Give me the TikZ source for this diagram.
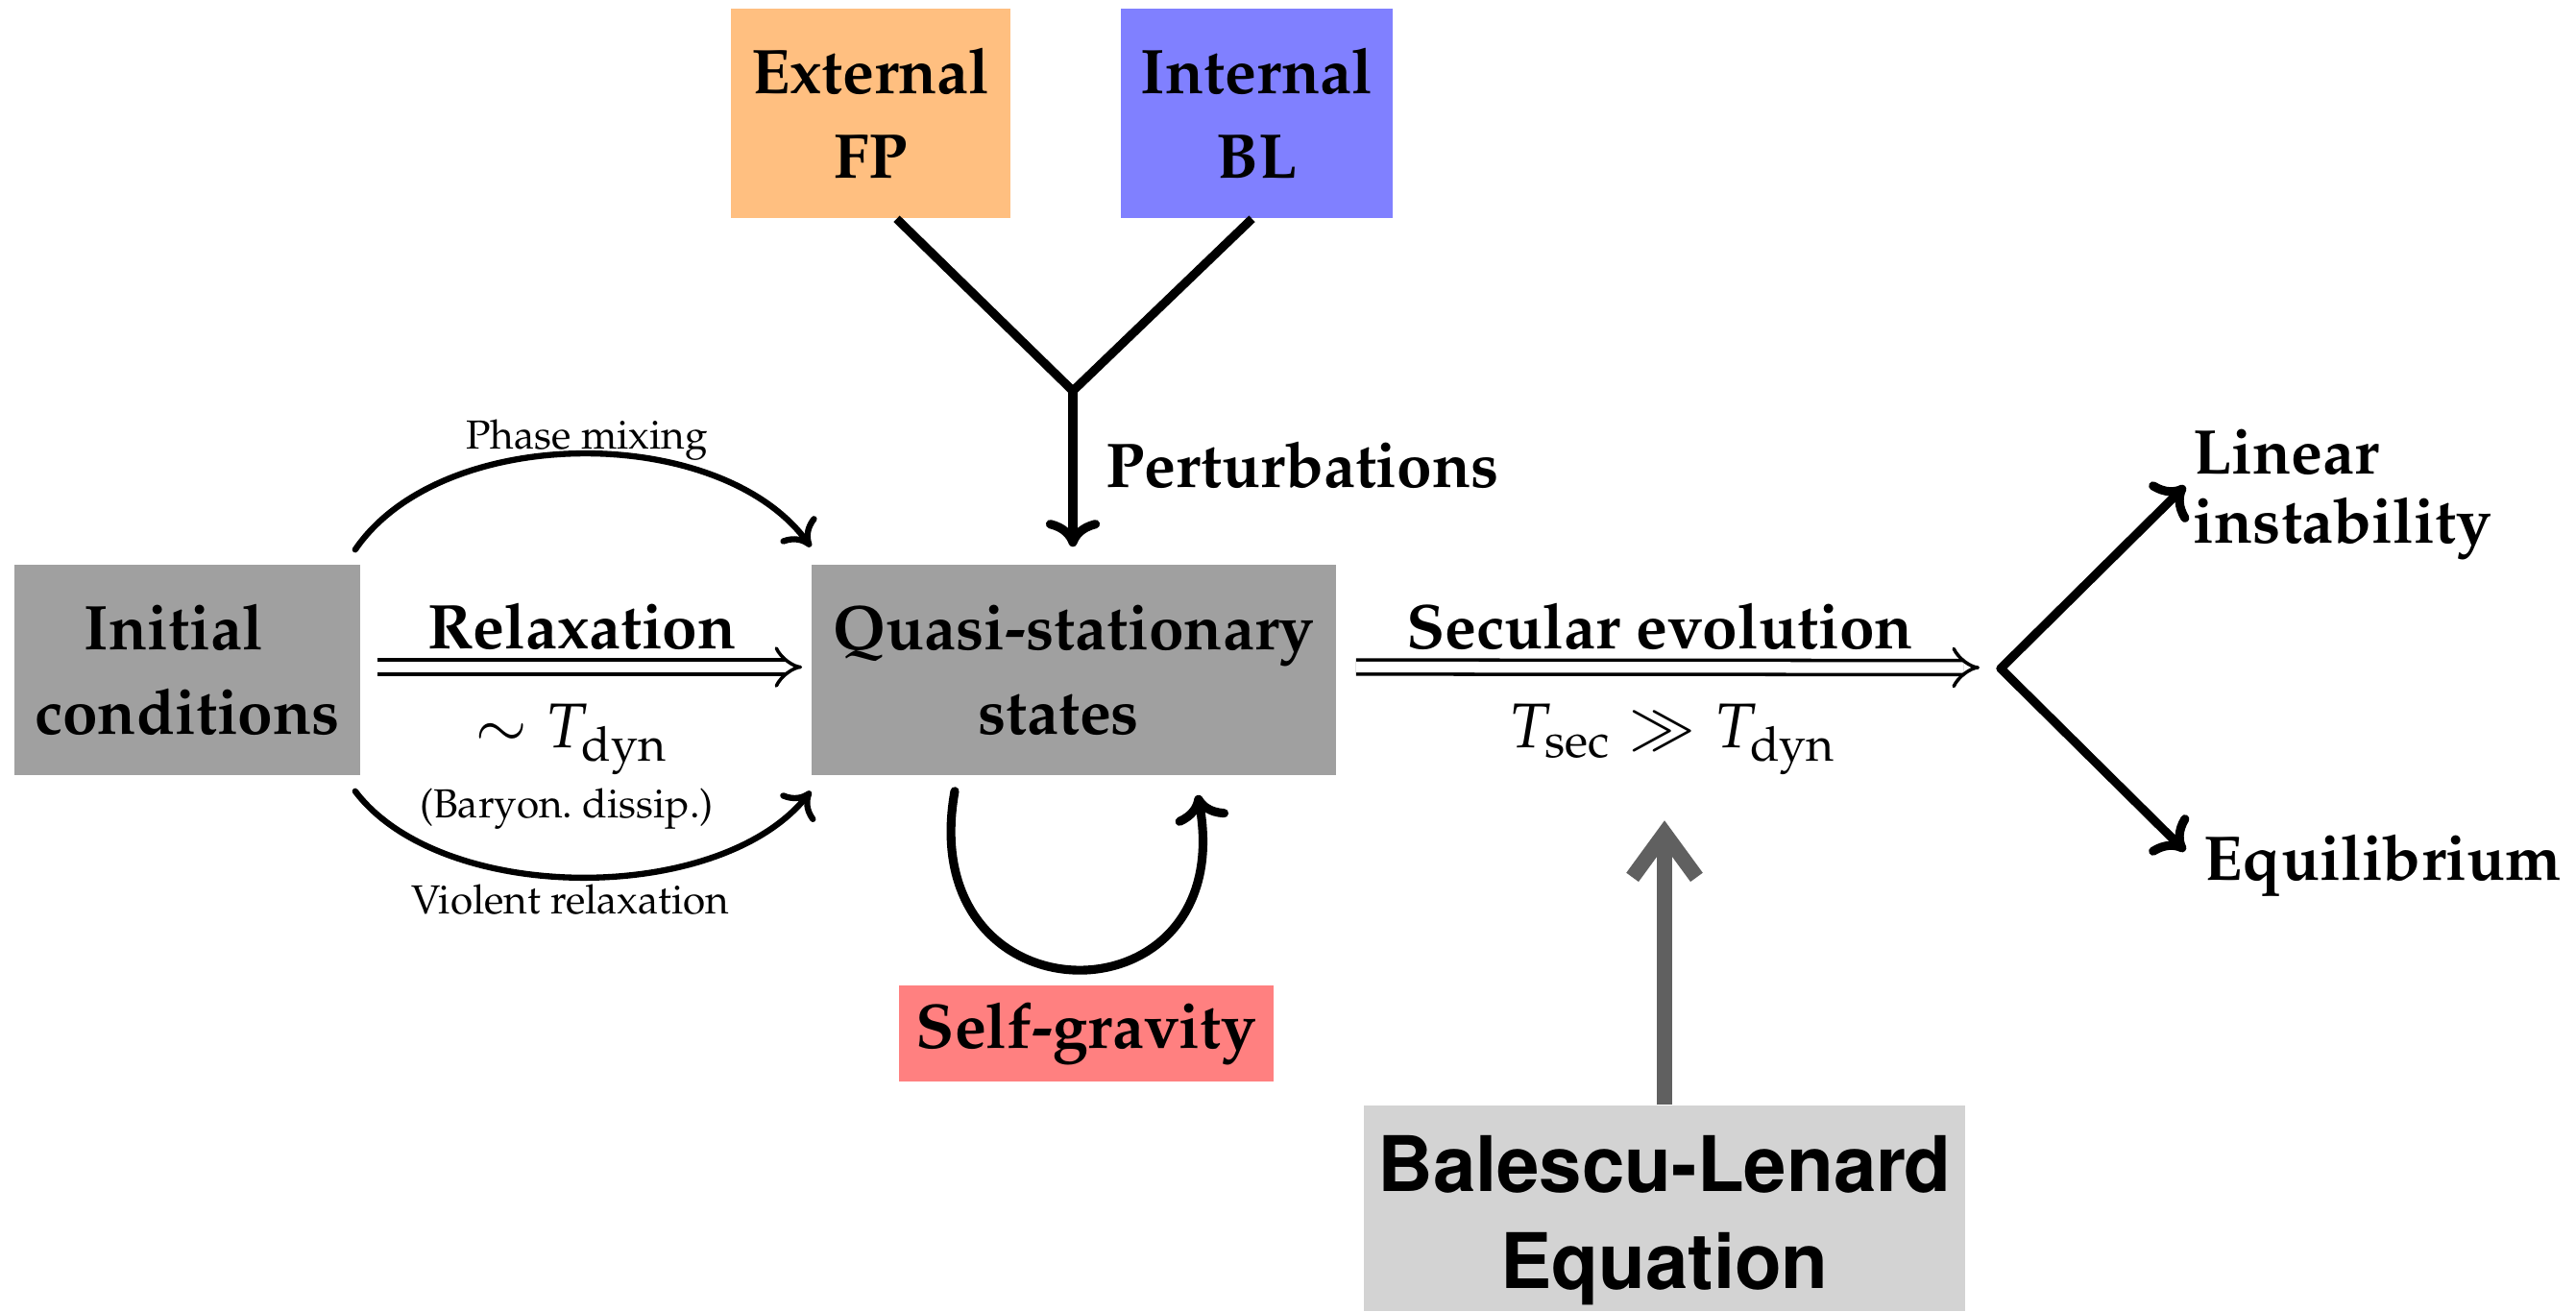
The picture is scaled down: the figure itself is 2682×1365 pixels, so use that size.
\documentclass[tikz,border=0pt]{standalone}
\usepackage[T1]{fontenc}
\usepackage{mathpazo}
\usetikzlibrary{arrows.meta,calc}
\definecolor{boxgray}{HTML}{A0A0A0}
\definecolor{extcol}{HTML}{FFBF80}
\definecolor{intcol}{HTML}{8080FF}
\definecolor{sgcol}{HTML}{FF8080}
\definecolor{blcol}{HTML}{D3D3D3}
\definecolor{arrgray}{HTML}{606060}
\begin{document}
\begin{tikzpicture}[x=0.01cm,y=-0.01cm,
  bigtxt/.style={font=\fontsize{18.7}{25}\selectfont\bfseries, align=center},
  mathtxt/.style={font=\fontsize{18.7}{22}\selectfont},
  smalltxt/.style={font=\fontsize{12}{14}\selectfont},
  boxnode/.style={rectangle, inner sep=0pt, bigtxt},
  thinarrow/.style={line width=1.8pt, line cap=round, -{Computer Modern Rightarrow[length=7pt,width=13pt]}},
  thickarrow/.style={line width=2.6pt, line cap=round, -{Computer Modern Rightarrow[length=8pt,width=16pt]}},
  dblarrow/.style={double, double distance=3.2pt, line width=1pt, -{Implies[scale=1.5]}},
  grayarrow/.style={draw=arrgray, line width=4.5pt, -{Straight Barb[length=13pt,width=19pt]}},
]
\useasboundingbox (0,0) rectangle (2682,1365);

% boxes
\node[boxnode, fill=boxgray, minimum width=3.6cm, minimum height=2.19cm] (ic) at (195,697.5) {Initial\hspace*{8pt}\\conditions};
\node[boxnode, fill=boxgray, minimum width=5.46cm, minimum height=2.19cm] (qs) at (1118,697.5) {Quasi-stationary\\states\hspace*{9pt}};
\node[boxnode, fill=extcol, minimum width=2.91cm, minimum height=2.18cm] (ext) at (906.5,118) {External\\FP};
\node[boxnode, fill=intcol, minimum width=2.83cm, minimum height=2.18cm] (int) at (1308.5,118) {Internal\\BL};
\node[boxnode, fill=sgcol, minimum width=3.9cm, minimum height=1cm] (sg) at (1131,1076) {Self-gravity};
\node[rectangle, inner sep=0pt, fill=blcol, minimum width=6.26cm, minimum height=2.14cm] (bl) at (1733,1258) {};
\node[align=center, inner sep=0pt, font=\fontfamily{phv}\fontsize{22.7}{28.5}\selectfont\bfseries] (bltext) at ($(bl.center)+(0,13)$) {Balescu-Lenard\\Equation};

% perturbations
\coordinate (yj) at (1117,407);
\draw[line width=2.6pt, line join=miter] ($(ext.south)+(27,0)$) -- (yj) -- ($(int.south)+(-5,0)$);
\draw[thickarrow] (yj) -- ($(qs.north -| yj)+(0,-18)$);
\node[bigtxt, anchor=west, inner sep=0pt] (pert) at (1151,484) {Perturbations};

% relaxation
\node[bigtxt] (relax) at (606,652) {Relaxation};
\draw[dblarrow] ($(ic.east)+(17,-3)$) -- ($(qs.west)+(-9,-3)$);
\node[mathtxt] (tdyn) at (595,770) {$\sim T_{\mathrm{dyn}}$};
\node[smalltxt] (bary) at (590,842) {(Baryon.\ dissip.)};
\node[smalltxt] (phase) at (611,458) {Phase mixing};
\node[smalltxt] (violent) at (594,937) {Violent relaxation};
\draw[thinarrow] ($(ic.north east)+(-6,-15)$) .. controls (460,440) and (750,440) .. ($(qs.north west)+(0,-18)$);
\draw[thinarrow] ($(ic.south east)+(-6,16)$) .. controls (460,943) and (750,943) .. ($(qs.south west)+(0,16)$);

% self-gravity loop
\draw[thickarrow] ($(qs.south)+(-124,16)$) .. controls (950,1070) and (1292,1070) .. ($(qs.south)+(129,20)$);

% secular evolution
\coordinate (fork) at (2083,696);
\node[bigtxt] (sec) at (1728,652) {Secular evolution};
\draw[dblarrow] ($(qs.east)+(20,-3)$) -- ($(fork)+(-22,-1)$);
\node[mathtxt] (tsec) at (1741,770) {$T_{\mathrm{sec}} \gg T_{\mathrm{dyn}}$};

% outcomes
\node[font=\fontsize{18.7}{20.5}\selectfont\bfseries, anchor=west, align=left, inner sep=0pt] (lin) at (2283,515) {Linear\\instability};
\node[bigtxt, anchor=west, inner sep=0pt] (eq) at (2294,901) {Equilibrium};
\draw[thickarrow] (fork) -- ($(lin.west)+(-8,-9)$);
\draw[thickarrow] (fork) -- ($(eq.west)+(-19,-15)$);

% Balescu-Lenard arrow
\draw[grayarrow] (bl.north) -- ++(0,-296);
\end{tikzpicture}
\end{document}
